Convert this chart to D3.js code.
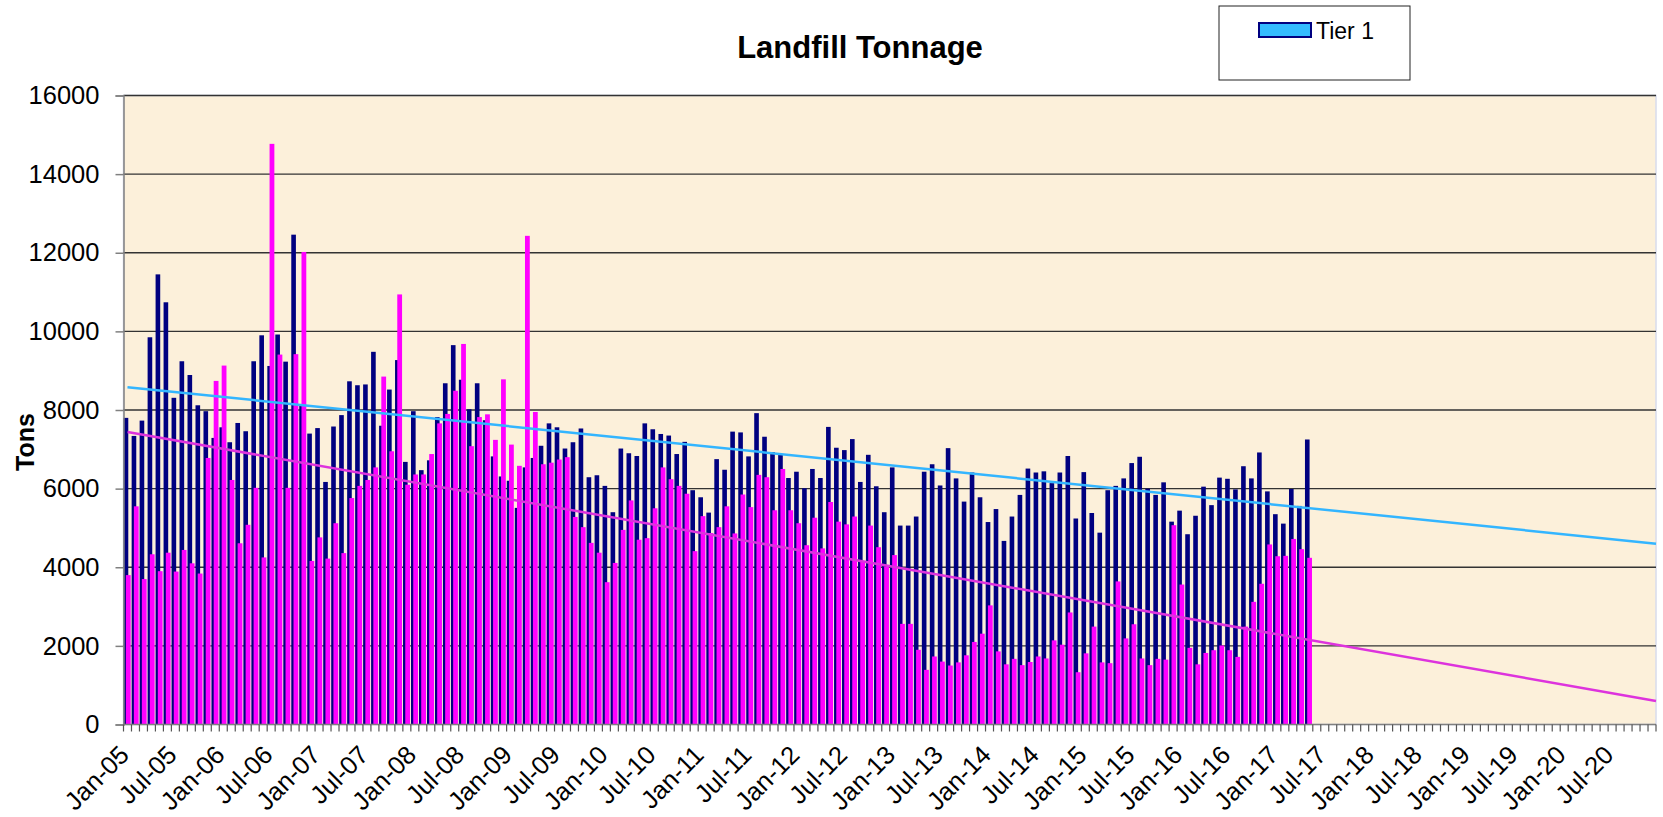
<!DOCTYPE html>
<html>
<head>
<meta charset="utf-8">
<script src="https://cdn.jsdelivr.net/npm/d3@7"></script>
<style>
  body { margin: 0; background: #fff; }
  text { font-family: "Liberation Sans", Arial, sans-serif; }
</style>
</head>
<body>
<svg id="chart" width="1663" height="817"></svg>
<script>
// monthly landfill tonnage, Jan-05 .. May-17
var tier1 = [
  7800, 7340, 7730, 9850, 11450, 10740, 8310, 9240, 8890, 8120, 7970, 7290,
  7560, 7180, 7670, 7460, 9240, 9900, 9120, 9920, 9230, 12460, 8140, 7400,
  7540, 6170, 7580, 7870, 8730, 8630, 8650, 9480, 7600, 8520, 9270, 6680,
  7970, 6470, 6720, 7820, 8680, 9650, 8770, 8020, 8680, 7740, 6820, 6310,
  6200, 5510, 6540, 6780, 7090, 7660, 7560, 7020, 7180, 7530, 6290, 6340,
  6070, 5400, 7020, 6900, 6830, 7660, 7510, 7390, 7350, 6880, 7190, 5960,
  5780, 5390, 6750, 6480, 7450, 7430, 6820, 7920, 7320, 6930, 6880, 6270,
  6430, 6010, 6500, 6270, 7570, 7040, 6980, 7260, 6170, 6860, 6060, 5400,
  6540, 5060, 5060, 5290, 6430, 6620, 6080, 7030, 6260, 5670, 6410, 5780,
  5150, 5480, 4670, 5290, 5840, 6510, 6410, 6440, 6140, 6410, 6830, 5240,
  6420, 5380, 4880, 5960, 6070, 6260, 6650, 6810, 6000, 5840, 6160, 5160,
  5440, 4840, 5310, 6050, 5580, 6280, 6250, 5980, 6570, 6260, 6920, 5930,
  5350, 5110, 5990, 5560, 7250
];
var tier2 = [
  3800, 5550, 3700, 4330, 3900, 4370, 3890, 4440, 4100, 3840, 6780, 8740,
  9130, 6220, 4610, 5080, 6020, 4250, 14770, 9410, 6020, 9420, 12020, 4160,
  4760, 4220, 5120, 4360, 5760, 6070, 6220, 6540, 8850, 6950, 10940, 6100,
  6360, 6360, 6880, 7660, 7900, 8490, 9680, 7080, 7820, 7890, 7240, 8780,
  7120, 6580, 12430, 7950, 6620, 6660, 6740, 6800, 5280, 5020, 4620, 4370,
  3620, 4110, 4950, 5700, 4700, 4740, 5500, 6540, 6240, 6070, 5870, 4410,
  5300, 4870, 5020, 5550, 4860, 5850, 5530, 6350, 6290, 5450, 6500, 5450,
  5120, 4560, 5260, 4480, 5660, 5160, 5090, 5290, 4150, 5060, 4510, 4020,
  4310, 2560, 2560, 1900, 1390, 1730, 1600, 1500, 1580, 1760, 2100, 2310,
  3030, 1860, 1530, 1670, 1510, 1590, 1730, 1680, 2140, 2030, 2850, 1330,
  1810, 2490, 1580, 1560, 3640, 2190, 2550, 1680, 1510, 1670, 1650, 5070,
  3560, 1950, 1530, 1820, 1890, 2010, 1890, 1720, 2490, 3120, 3580, 4580,
  4280, 4290, 4720, 4460, 4240
];
// trend line values at the first category and at the right end of the axis
var trendTier1 = [8580, 4600];
var trendTier2 = [7440, 600];
var tickLabels = [
  'Jan-05', 'Jul-05', 'Jan-06', 'Jul-06', 'Jan-07', 'Jul-07', 'Jan-08', 'Jul-08',
  'Jan-09', 'Jul-09', 'Jan-10', 'Jul-10', 'Jan-11', 'Jul-11', 'Jan-12', 'Jul-12',
  'Jan-13', 'Jul-13', 'Jan-14', 'Jul-14', 'Jan-15', 'Jul-15', 'Jan-16', 'Jul-16',
  'Jan-17', 'Jul-17', 'Jan-18', 'Jul-18', 'Jan-19', 'Jul-19', 'Jan-20', 'Jul-20'
];
var yTicks = [0, 2000, 4000, 6000, 8000, 10000, 12000, 14000, 16000];

// axis runs one month per category, Jan-05 through Dec-20
var fmt = d3.timeFormat('%b-%y');
var categories = d3.timeMonth.range(new Date(2005, 0, 1), new Date(2021, 0, 1)).map(fmt);

var svg = d3.select('#chart'),
    plotL = 123.5, plotR = 1656, plotT = 95.5, plotB = 724.5;

var x = d3.scaleBand().domain(categories).range([plotL, plotR]).padding(0),
    bw = x.bandwidth(),
    xi = d3.scaleLinear().domain([-0.5, categories.length - 0.5]).range([plotL, plotR]),
    y = d3.scaleLinear().domain([0, 16000]).range([plotB, plotT]);

// plot area
svg.append('rect')
    .attr('x', plotL).attr('y', plotT)
    .attr('width', plotR - plotL).attr('height', plotB - plotT)
    .attr('fill', '#fcf0da')
    .attr('stroke', '#d8dcec').attr('stroke-width', 1.5);

svg.append('g').selectAll('line')
    .data(yTicks.slice(1))
    .join('line')
    .attr('x1', plotL).attr('x2', plotR)
    .attr('y1', function(d){ return y(d); })
    .attr('y2', function(d){ return y(d); })
    .attr('stroke', '#333').attr('stroke-width', 1.3);

// bars
svg.append('g').selectAll('rect')
    .data(tier1)
    .join('rect')
    .attr('x', function(d, i){ return x(categories[i]) + 0.02 * bw; })
    .attr('width', 0.58 * bw)
    .attr('y', function(d){ return y(d); })
    .attr('height', function(d){ return y(0) - y(d); })
    .attr('fill', '#000080');

svg.append('g').selectAll('rect')
    .data(tier2)
    .join('rect')
    .attr('x', function(d, i){ return x(categories[i]) + 0.3 * bw; })
    .attr('width', 0.6 * bw)
    .attr('y', function(d){ return y(d); })
    .attr('height', function(d){ return y(0) - y(d); })
    .attr('fill', '#ff00ff');

// trend lines, forecast to the end of the axis
var trendX = [0, categories.length - 0.5];
var line = d3.line()
    .x(function(d, i){ return xi(trendX[i]); })
    .y(function(d){ return y(d); });

svg.append('path').attr('d', line(trendTier1))
    .attr('fill', 'none').attr('stroke', '#33b5ff').attr('stroke-width', 2.5);
svg.append('path').attr('d', line(trendTier2))
    .attr('fill', 'none').attr('stroke', '#dd33dd').attr('stroke-width', 2.5);

// axes
var yAxis = svg.append('g').attr('transform', 'translate(' + plotL + ',0)')
    .call(d3.axisLeft(y).tickValues(yTicks).tickSize(8).tickPadding(16).tickFormat(d3.format('d')));
yAxis.select('.domain').attr('stroke', '#808080').attr('stroke-width', 1.5);
yAxis.selectAll('.tick line').attr('stroke', '#808080').attr('stroke-width', 1.5);
yAxis.selectAll('.tick text').attr('font-size', 25.5).attr('fill', '#000')
    .attr('font-family', '"Liberation Sans", Arial, sans-serif');

var xAxis = svg.append('g');
xAxis.append('line')
    .attr('x1', plotL).attr('x2', plotR).attr('y1', plotB).attr('y2', plotB)
    .attr('stroke', '#808080').attr('stroke-width', 1.5);
xAxis.selectAll('.tk')
    .data(categories.concat(['end']))
    .join('line')
    .attr('class', 'tk')
    .attr('x1', function(d, i){ return plotL + i * bw; })
    .attr('x2', function(d, i){ return plotL + i * bw; })
    .attr('y1', plotB).attr('y2', plotB + 7)
    .attr('stroke', '#555').attr('stroke-width', 1.2);
xAxis.selectAll('text')
    .data(tickLabels)
    .join('text')
    .attr('transform', function(d){
        return 'translate(' + (x(d) + bw / 2 + 3) + ',' + (plotB + 32) + ') rotate(-45)';
    })
    .attr('text-anchor', 'end')
    .attr('font-size', 25.5)
    .text(function(d){ return d; });

// titles
svg.append('text')
    .attr('x', 860).attr('y', 58)
    .attr('text-anchor', 'middle')
    .attr('font-size', 31).attr('font-weight', 'bold')
    .text('Landfill Tonnage');

svg.append('text')
    .attr('transform', 'translate(34,442) rotate(-90)')
    .attr('text-anchor', 'middle')
    .attr('font-size', 25).attr('font-weight', 'bold')
    .text('Tons');

// legend
var legend = svg.append('g');
legend.append('rect')
    .attr('x', 1219).attr('y', 6).attr('width', 191).attr('height', 74)
    .attr('fill', '#fff').attr('stroke', '#222').attr('stroke-width', 1);
legend.append('rect')
    .attr('x', 1259).attr('y', 23).attr('width', 52).attr('height', 14)
    .attr('fill', '#33bbff').attr('stroke', '#000080').attr('stroke-width', 2);
legend.append('text')
    .attr('x', 1316).attr('y', 38.5)
    .attr('font-size', 23)
    .text('Tier 1');
</script>
</body>
</html>
